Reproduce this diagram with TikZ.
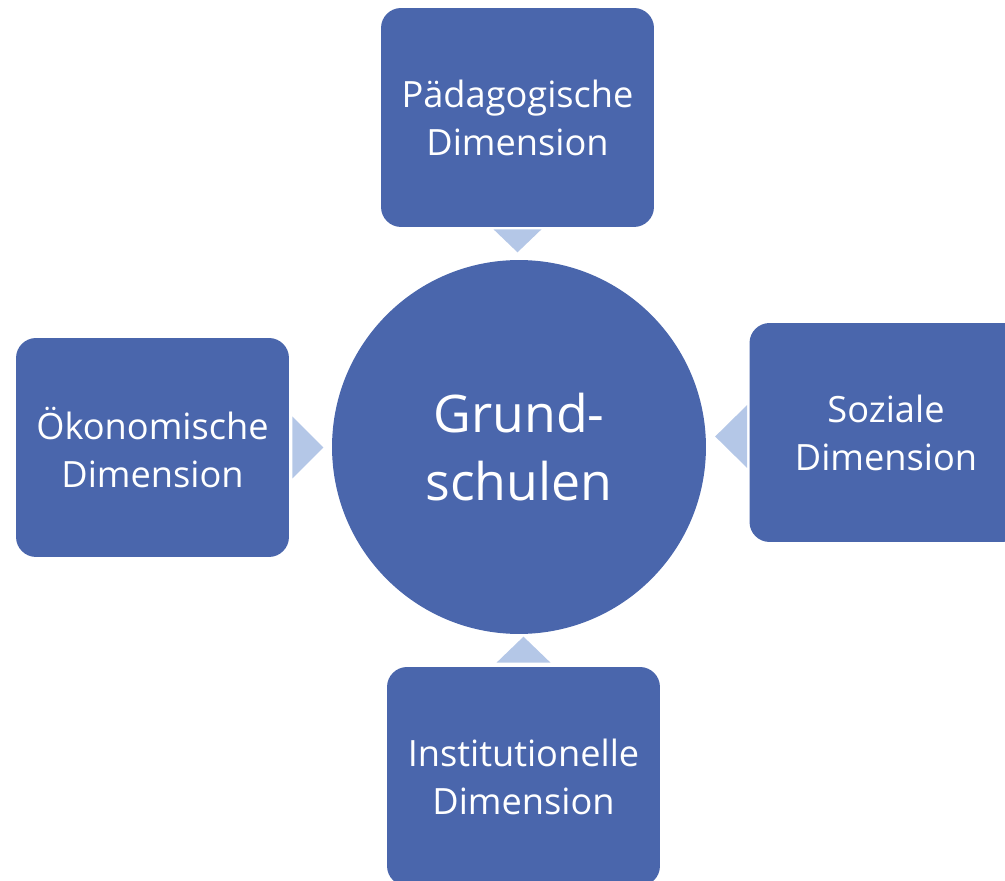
\documentclass[tikz,border=0pt]{standalone}
\usepackage{fontspec}
\setmainfont{Open Sans}
\usetikzlibrary{calc}

\definecolor{dimblue}{HTML}{4A66AC}
\definecolor{arrowblue}{HTML}{B4C7E7}

\tikzstyle{dimension} = [rectangle, rounded corners=0.4cm, fill=dimblue, text=white,
    minimum width=5.46cm, minimum height=4.38cm, align=center,
    font=\fontsize{20.6}{27.3}\selectfont]
\tikzstyle{kern} = [circle, fill=dimblue, text=white, minimum size=7.48cm,
    inner sep=0pt, align=center, font=\fontsize{29.5}{38.7}\selectfont]
\tikzstyle{pfeil} = [fill=arrowblue]

\begin{document}
\begin{tikzpicture}[x=0.02cm, y=-0.02cm]
\useasboundingbox (0,0) rectangle (1005,881);

% Mitte
\node[kern] (grund) at (519,447) {Grund-\\schulen};

% Dimensionen
\node[dimension] (paed) at (517.5,117.5) {Pädagogische\\Dimension};
\node[dimension] (oeko) at (152.5,447.5) {Ökonomische\\Dimension};
\node[dimension] (sozi) at (886,432.5) {Soziale\\Dimension};
\node[dimension] (inst) at (523.5,776.5) {Institutionelle\\Dimension};

% Pfeile
\fill[pfeil] ($(paed.south)+(-24,2)$) -- ($(paed.south)+(24,2)$) -- ($(paed.south)+(0,25)$) -- cycle;
\fill[pfeil] ($(oeko.east)+(3,-31)$) -- ($(oeko.east)+(3,31)$) -- ($(oeko.east)+(34,0)$) -- cycle;
\fill[pfeil] ($(sozi.west)+(-2,-27.5)$) -- ($(sozi.west)+(-2,35.5)$) -- ($(sozi.west)+(-34,4)$) -- cycle;
\fill[pfeil] ($(inst.north)+(-27,-4)$) -- ($(inst.north)+(27,-4)$) -- ($(inst.north)+(0,-30)$) -- cycle;
\end{tikzpicture}
\end{document}
